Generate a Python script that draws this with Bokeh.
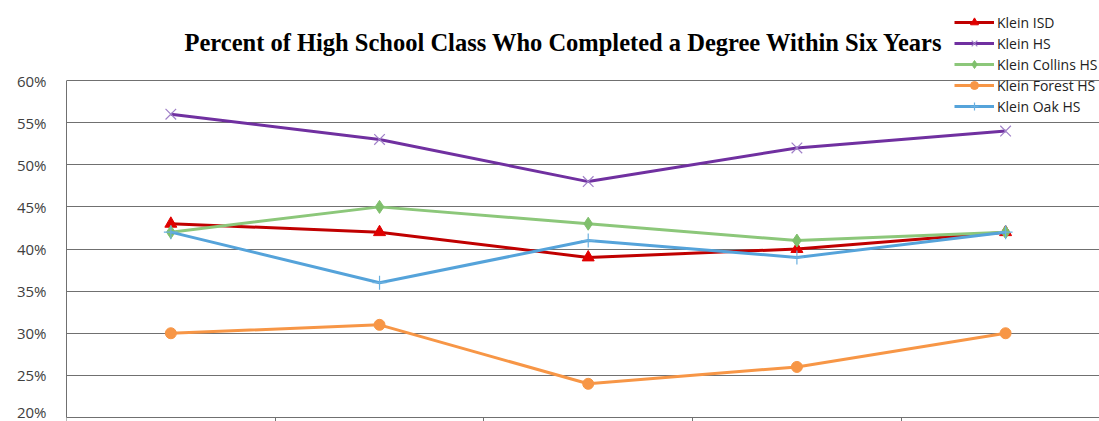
from bokeh.plotting import figure
from bokeh.models import (FixedTicker, PrintfTickFormatter, Range1d, Legend, LegendItem,
                          Label, LinearAxis)
from bokeh.embed import file_html
from bokeh.resources import INLINE

# ---- data ----
cohort_index = [1, 2, 3, 4, 5]
klein_isd = [43, 42, 39, 40, 42]
klein_hs = [56, 53, 48, 52, 54]
klein_collins = [42, 45, 43, 41, 42]
klein_forest = [30, 31, 24, 26, 30]
klein_oak = [42, 36, 41, 39, 42]
y_ticks = [20, 25, 30, 35, 40, 45, 50, 55, 60]
x_boundaries = [0.5, 1.5, 2.5, 3.5, 4.5, 5.5]
title_text = "Percent of High School Class Who Completed a Degree Within Six Years"

p = figure(width=1099, height=421, output_backend="svg", toolbar_location=None,
           x_range=Range1d(0.5, 5.45), y_range=Range1d(19.525, 69.496),
           x_axis_location=None,
           min_border_left=66, min_border_right=0, min_border_top=0, min_border_bottom=0)

p.outline_line_color = None
p.background_fill_color = "white"
p.border_fill_color = "white"
p.xgrid.visible = False

yax = p.yaxis[0]
yax.ticker = FixedTicker(ticks=y_ticks)
yax.formatter = PrintfTickFormatter(format="%d%%")
yax.bounds = (20, 60)
yax.major_tick_out = 0
yax.major_tick_in = 0
yax.minor_tick_out = 0
yax.minor_tick_in = 0
yax.major_label_standoff = 20
yax.major_label_text_font = "Open Sans"
yax.major_label_text_font_size = "15px"
yax.major_label_text_color = "#404040"
yax.axis_line_color = "#707070"
yax.axis_line_width = 1

p.ygrid.ticker = FixedTicker(ticks=y_ticks)
p.ygrid.grid_line_color = "#707070"
p.ygrid.grid_line_width = 1

# category axis (labels cut off in the reference) sitting on the 20% line
xax = LinearAxis(fixed_location=20, ticker=FixedTicker(ticks=x_boundaries))
xax.major_tick_out = 6
xax.major_tick_in = 0
xax.minor_tick_out = 0
xax.minor_tick_in = 0
xax.major_tick_line_color = "#707070"
xax.axis_line_color = "#707070"
xax.major_label_text_font_size = "0px"
xax.major_label_text_alpha = 0
p.add_layout(xax, "below")

title = Label(x=118, y=379, x_units="screen", y_units="screen", text=title_text,
              text_font="Liberation Serif", text_font_style="bold",
              text_font_size="24.5px", text_color="#000000",
              text_baseline="alphabetic", text_align="left")
p.add_layout(title)

series = [
    ("Klein ISD", klein_isd, "#C00000", "triangle", "#E00000", 12),
    ("Klein HS", klein_hs, "#7030A0", "x", "#A080C8", 15),
    ("Klein Collins HS", klein_collins, "#8CC77A", "diamond", "#7FBF6C", 13),
    ("Klein Forest HS", klein_forest, "#F79646", "circle", "#F79646", 11),
    ("Klein Oak HS", klein_oak, "#55A3DA", "cross", "#6AB0E0", 14),
]

items = []
for name, vals, col, marker, mcol, size in series:
    lr = p.line(cohort_index, vals, line_color=col, line_width=3)
    if marker in ("x", "cross"):
        sr = p.scatter(cohort_index, vals, marker=marker, size=size,
                       line_color=mcol, line_width=1.2, fill_color=None)
    else:
        sr = p.scatter(cohort_index, vals, marker=marker, size=size,
                       line_color=mcol, fill_color=mcol, line_width=1)
    items.append(LegendItem(label=name, renderers=[lr, sr]))

legend = Legend(items=items, location=(888, 305), padding=0, margin=0,
                spacing=1, glyph_width=40, glyph_height=20, label_height=20,
                label_standoff=3, label_text_font="Open Sans",
                label_text_font_size="14px", label_text_color="#222222",
                border_line_color=None, background_fill_alpha=0)
p.add_layout(legend, "center")

open("out.html", "w").write(file_html(p, INLINE))
